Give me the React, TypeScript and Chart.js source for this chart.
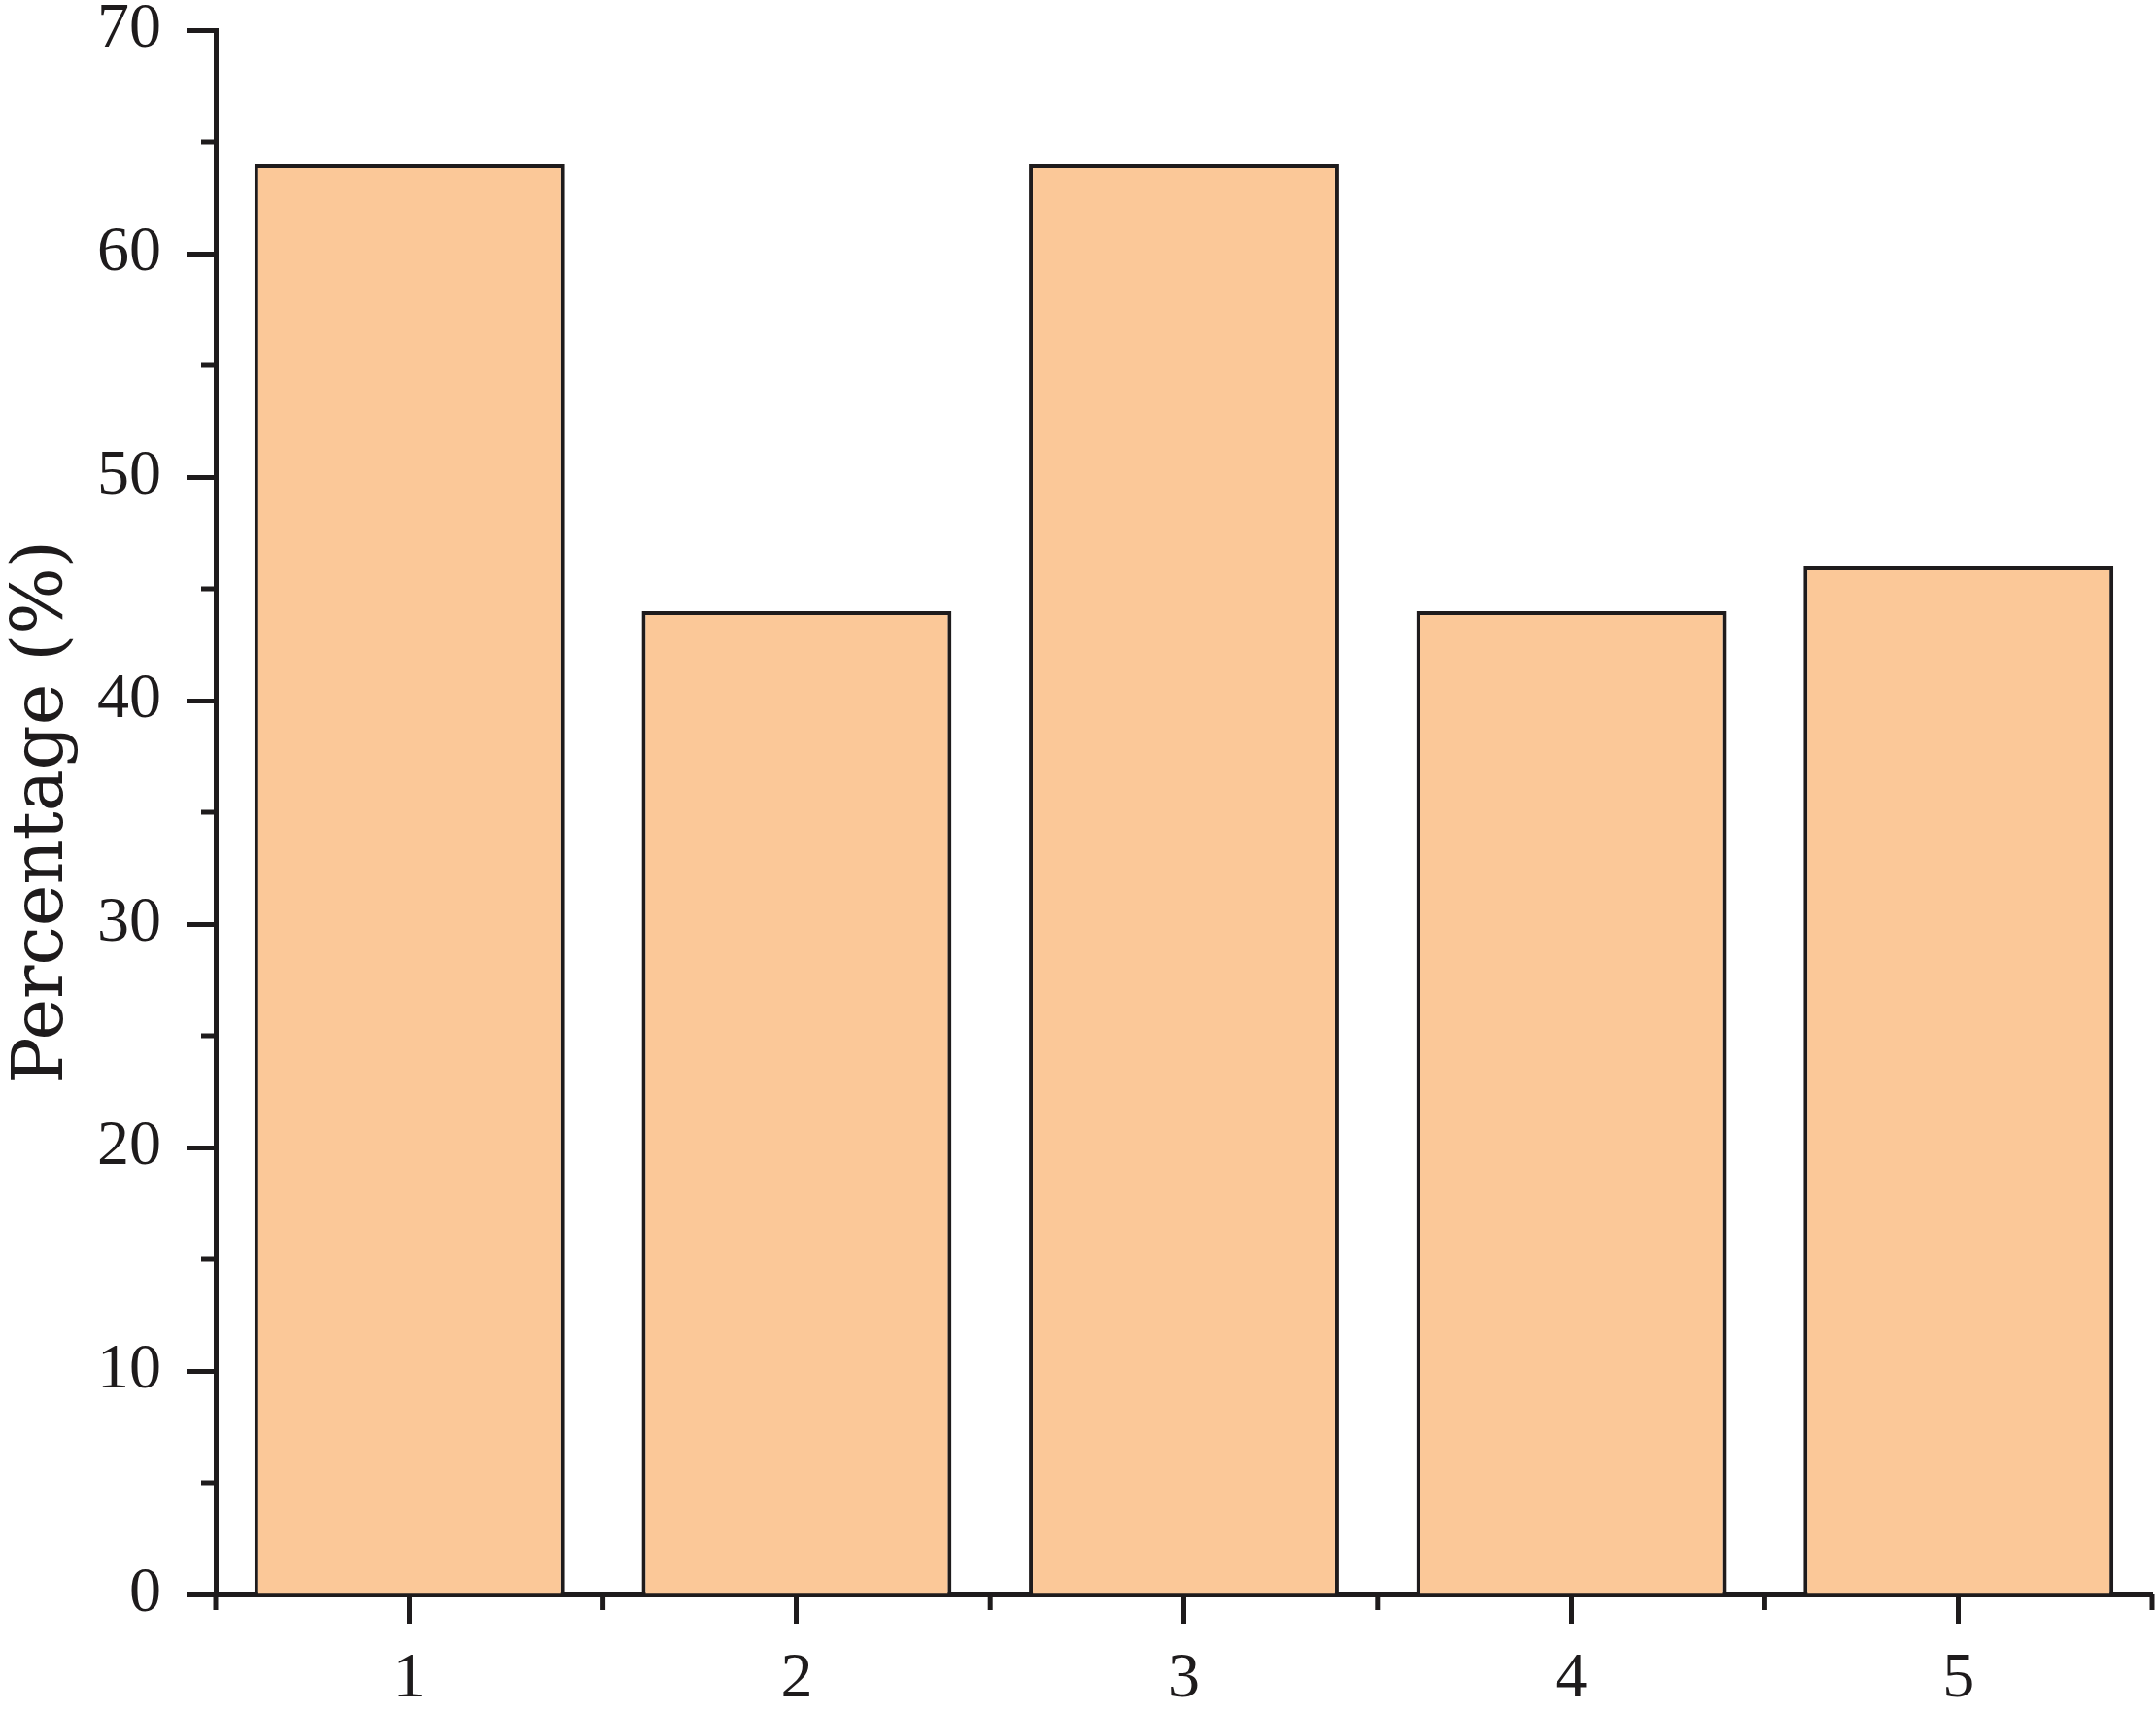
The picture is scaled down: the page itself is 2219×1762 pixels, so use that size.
import React, { useEffect, useRef } from "react";
import { Chart, registerables } from "chart.js";

Chart.register(...registerables);

// ---- data ----
const categories: string[] = ["1", "2", "3", "4", "5"];
const percentages: number[] = [64, 44, 64, 44, 46];
const yMin = 0;
const yMax = 70;
const yMajorStep = 10;
const yMinorTicks: number[] = [5, 15, 25, 35, 45, 55, 65];
const yTitle = "Percentage (%)";

const INK = "#1e1b1c";
const BAR_FILL = "#FBC898";

const minorTicksPlugin = {
  id: "minorTicks",
  afterDraw(chart: any) {
    const { ctx } = chart;
    const ys = chart.scales.y;
    const xs = chart.scales.x;
    ctx.save();
    ctx.strokeStyle = INK;
    ctx.lineWidth = 5;
    ctx.lineCap = "butt";
    // y minor ticks (outward, shorter)
    for (const v of yMinorTicks) {
      const py = ys.getPixelForValue(v);
      ctx.beginPath();
      ctx.moveTo(ys.right, py);
      ctx.lineTo(ys.right - 15, py);
      ctx.stroke();
    }
    // x minor ticks at category boundaries
    const n = categories.length;
    for (let i = 0; i <= n; i++) {
      let px: number;
      if (i === 0) px = xs.left;
      else if (i === n) px = xs.right;
      else px = (xs.getPixelForValue(i - 1) + xs.getPixelForValue(i)) / 2;
      ctx.beginPath();
      ctx.moveTo(px, xs.top);
      ctx.lineTo(px, xs.top + 16);
      ctx.stroke();
    }
    ctx.restore();
  },
};

export default function App() {
  const canvasRef = useRef<HTMLCanvasElement | null>(null);

  useEffect(() => {
    if (!canvasRef.current) return;
    const chart = new Chart(canvasRef.current, {
      type: "bar",
      data: {
        labels: categories,
        datasets: [
          {
            data: percentages,
            backgroundColor: BAR_FILL,
            borderColor: INK,
            borderWidth: 4,
            borderSkipped: "start",
            categoryPercentage: 0.8,
            barPercentage: 1.0,
          },
        ],
      },
      options: {
        responsive: false,
        animation: false,
        devicePixelRatio: 1,
        layout: { padding: { left: 0, top: 31, right: 4, bottom: 0 } },
        plugins: {
          legend: { display: false },
          tooltip: { enabled: false },
        },
        scales: {
          x: {
            type: "category",
            offset: true,
            z: 1,
            grid: {
              display: true,
              offset: false,
              drawOnChartArea: false,
              drawTicks: true,
              tickLength: 30,
              tickWidth: 5,
              tickColor: INK,
            },
            border: { display: true, color: INK, width: 5 },
            ticks: {
              color: INK,
              padding: 18,
              font: { family: "Liberation Serif", size: 66 },
              maxRotation: 0,
            },
            afterFit: (scale: any) => {
              scale.height = 121;
              scale.paddingLeft = 0;
              scale.paddingRight = 0;
            },
          },
          y: {
            type: "linear",
            min: yMin,
            max: yMax,
            z: 1,
            grid: {
              display: true,
              drawOnChartArea: false,
              drawTicks: true,
              tickLength: 30,
              tickWidth: 5,
              tickColor: INK,
            },
            border: { display: true, color: INK, width: 5 },
            ticks: {
              stepSize: yMajorStep,
              color: INK,
              padding: 26,
              font: { family: "Liberation Serif", size: 66 },
            },
            title: {
              display: true,
              text: yTitle,
              color: INK,
              font: { family: "DejaVu Serif", size: 72, weight: "normal" },
              padding: { top: 2, bottom: 0 },
            },
            afterFit: (scale: any) => {
              scale.width = 222;
              scale.paddingTop = 0;
              scale.paddingBottom = 0;
            },
          },
        },
      },
      plugins: [minorTicksPlugin],
    });
    return () => chart.destroy();
  }, []);

  return (
    <div
      style={{
        position: "fixed",
        left: 0,
        top: 0,
        width: 2219,
        height: 1762,
        background: "#ffffff",
      }}
    >
      <canvas
        ref={canvasRef}
        width={2219}
        height={1762}
        style={{ display: "block", width: 2219, height: 1762 }}
      />
    </div>
  );
}
